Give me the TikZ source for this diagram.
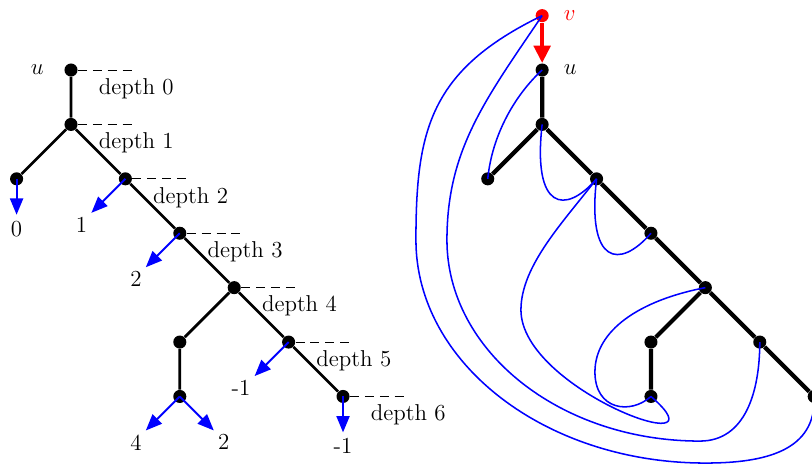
\documentclass[tikz,border=0pt]{standalone}
\usetikzlibrary{arrows.meta,positioning}
\tikzset{
  dot/.style={circle,fill=black,inner sep=0pt,minimum size=0.24cm},
  reddot/.style={dot,fill=red},
  treeedge/.style={line width=1.4pt},
  boldedge/.style={line width=2.2pt},
  countarrow/.style={blue,line width=1pt,-{Triangle[length=3mm,width=2.4mm]}},
  jump/.style={blue,line width=0.8pt},
  depthline/.style={thin,dash pattern=on 4.7pt off 3.1pt},
}
\begin{document}
\begin{tikzpicture}[font=\large]
\useasboundingbox (-1.305,-7.26) rectangle (13.62,1.287);
% left tree
\node[dot] (u) at (0,0) {};
\node[dot] (n1) at (0,-1) {};
\node[dot] (l1) at (-1,-2) {};
\node[dot] (n2) at (1,-2) {};
\node[dot] (n3) at (2,-3) {};
\node[dot] (n4) at (3,-4) {};
\node[dot] (m1) at (2,-5) {};
\node[dot] (m2) at (2,-6) {};
\node[dot] (n5) at (4,-5) {};
\node[dot] (n6) at (5,-6) {};
\node[left=0.25 of u] (ulab) {$u$};
\draw[treeedge] (u)--(n1)--(n2)--(n3)--(n4)--(n5)--(n6);
\draw[treeedge] (n1)--(l1) (n4)--(m1)--(m2);
\foreach \n/\d in {u/0,n1/1,n2/2,n3/3,n4/4,n5/5,n6/6}{
  \draw[depthline] (\n.east) -- ++(1.05,0);
  \path (\n) ++(1.2,-0.34) node (d\d) {depth \d};
}
% counts
\coordinate (t0) at (-1,-2.66);
\coordinate (t1) at (0.375,-2.625);
\coordinate (t2) at (1.375,-3.625);
\coordinate (t5) at (3.375,-5.625);
\coordinate (t4a) at (1.375,-6.625);
\coordinate (t4b) at (2.625,-6.625);
\coordinate (t6) at (5,-6.66);
\draw[countarrow] (l1.center) -- (t0);
\draw[countarrow] (n2.center) -- (t1);
\draw[countarrow] (n3.center) -- (t2);
\draw[countarrow] (n5.center) -- (t5);
\draw[countarrow] (m2.center) -- (t4a);
\draw[countarrow] (m2.center) -- (t4b);
\draw[countarrow] (n6.center) -- (t6);
\node[anchor=north,inner sep=3pt] (c0) at (t0) {0};
\node[anchor=north east,inner sep=2pt] (c1) at (t1) {1};
\node[anchor=north east,inner sep=2pt] (c2) at (t2) {2};
\node[anchor=north east,inner sep=2pt] (c5) at (t5) {-1};
\node[anchor=north east,inner sep=2pt] (c4a) at (t4a) {4};
\node[anchor=north west,inner sep=2pt] (c4b) at (t4b) {2};
\node[anchor=north,inner sep=3pt] (c6) at (t6) {-1};
% right tree
\node[reddot] (v) at (8.66,1) {};
\node[dot] (ru) at (8.66,0) {};
\node[dot] (r1) at (8.66,-1) {};
\node[dot] (rl) at (7.66,-2) {};
\node[dot] (r2) at (9.66,-2) {};
\node[dot] (r3) at (10.66,-3) {};
\node[dot] (r4) at (11.66,-4) {};
\node[dot] (rm1) at (10.66,-5) {};
\node[dot] (rm2) at (10.66,-6) {};
\node[dot] (r5) at (12.66,-5) {};
\node[dot] (r6) at (13.66,-6) {};
\node[right=0.15 of ru] (rulab) {$u$};
\node[right=0.15 of v,red] (vlab) {$v$};
\draw[boldedge] (ru)--(r1)--(r2)--(r3)--(r4)--(r5)--(r6);
\draw[boldedge] (r1)--(rl) (r4)--(rm1)--(rm2);
\draw[red,line width=2.2pt,-{Triangle[length=3.2mm,width=3mm]}] (v) -- (ru);
% jumps
\draw[jump] (v.center) .. controls (6.60,0) and (6.34,-1.10) .. (6.34,-3.125)
  .. controls (6.34,-5.386) and (8.72,-7.224) .. (11.66,-7.224)
  .. controls (12.76,-7.224) and (13.7,-7.0) .. (r6.center);
\draw[jump] (v.center) .. controls (7.61,-0.55) and (6.91,-1.47) .. (6.91,-3.125)
  .. controls (6.91,-5.165) and (8.99,-6.82) .. (11.56,-6.82)
  .. controls (12.39,-6.82) and (12.66,-5.92) .. (r5.center);
\draw[jump] (ru.center) .. controls (8.16,-0.46) and (7.74,-1.19) .. (rl.center);
\draw[jump] (r1.center) .. controls (8.48,-2.57) and (9.08,-2.67) .. (r2.center);
\draw[jump] (r2.center) .. controls (9.48,-3.57) and (10.08,-3.67) .. (r3.center);
\draw[jump] (r2.center) .. controls (9.08,-2.76) and (8.27,-3.585) .. (8.27,-4.41)
  .. controls (8.27,-5.88) and (12.12,-7.26) .. (rm2.center);
\draw[jump] (r4.center) .. controls (10.46,-4.23) and (9.63,-4.78) .. (9.63,-5.55)
  .. controls (9.63,-6.25) and (10.28,-6.34) .. (rm2.center);
\end{tikzpicture}
\end{document}
